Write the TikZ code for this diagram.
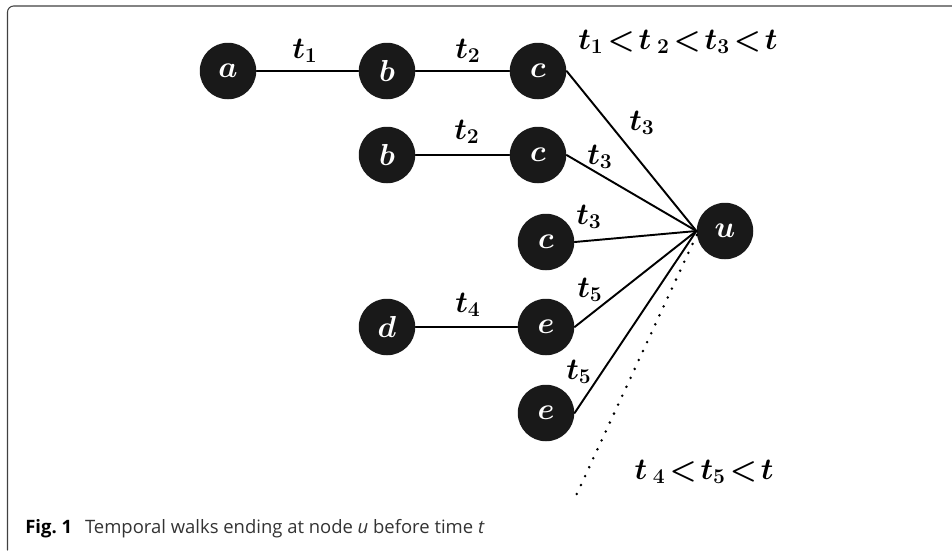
\documentclass[tikz,border=0pt]{standalone}
\usepackage{fontspec}
\setsansfont{Open Sans}
\begin{document}
\begin{tikzpicture}[x=0.2mm,y=-0.2mm,line join=round,line cap=round,
    vertex/.style={circle,fill=black!90,text=white,minimum size=11.3mm,inner sep=0pt,font=\fontsize{18}{20}\selectfont\boldmath},
    lbl/.style={inner sep=0pt,font=\fontsize{16.5}{18}\selectfont\boldmath},
    walk/.style={line width=1.1pt}]
\useasboundingbox (0,0) rectangle (952,550);
\draw[black!75,line width=0.6pt,rounded corners=3.5pt](7.5,550)--(7.5,6)--(952,6);
% vertices
\node[vertex](a) at (228,71){$a$};
\node[vertex](b1) at (387,71){$b$};
\node[vertex](c1) at (538,71){$c$};
\node[vertex](b2) at (387,155){$b$};
\node[vertex](c2) at (538,155){$c$};
\node[vertex](c3) at (546,242){$c$};
\node[vertex](d) at (387,327){$d$};
\node[vertex](e1) at (546,327){$e$};
\node[vertex](e2) at (546,413){$e$};
\node[vertex](u) at (725,231){$u$};
\coordinate (dotend) at (574,500);
% walks
\draw[walk](a)--(b1);
\draw[walk](b1)--(c1);
\draw[walk](c1.east)--(u.west);
\draw[walk](b2)--(c2);
\draw[walk](c2.east)--(u.west);
\draw[walk](c3.east)--(u.west);
\draw[walk](d)--(e1);
\draw[walk](e1.east)--(u.west);
\draw[walk](e2.east)--(u.west);
\draw[line width=1.6pt,dash pattern=on 0pt off 5.6pt](u.188)--(dotend);
% times
\node[lbl](t1) at (305,51){$t_1$};
\node[lbl](t2a) at (468,51){$t_2$};
\node[lbl](t3a) at (642,123){$t_3$};
\node[lbl](t2b) at (467,132){$t_2$};
\node[lbl](t3b) at (600,157){$t_3$};
\node[lbl](t3c) at (589,217){$t_3$};
\node[lbl](t4) at (468,305){$t_4$};
\node[lbl](t5a) at (590,290){$t_5$};
\node[lbl](t5b) at (579,372){$t_5$};
\node[lbl](ordtop) at (678,42){$t_1\!<\!t\,{}_2\!<\!t_3\!<\!t$};
\node[lbl](ordbot) at (704,472){$t\,{}_4\!<\!t_5\!<\!t$};
% caption
\node[anchor=base west,inner sep=0pt,font=\sffamily\fontsize{10.5}{12}\selectfont,text=black!80](cap) at (25,533)
  {\textbf{\color{black}Fig.~1}\hspace{0.7em}Temporal walks ending at node \textit{u} before time \textit{t}};
\end{tikzpicture}
\end{document}
